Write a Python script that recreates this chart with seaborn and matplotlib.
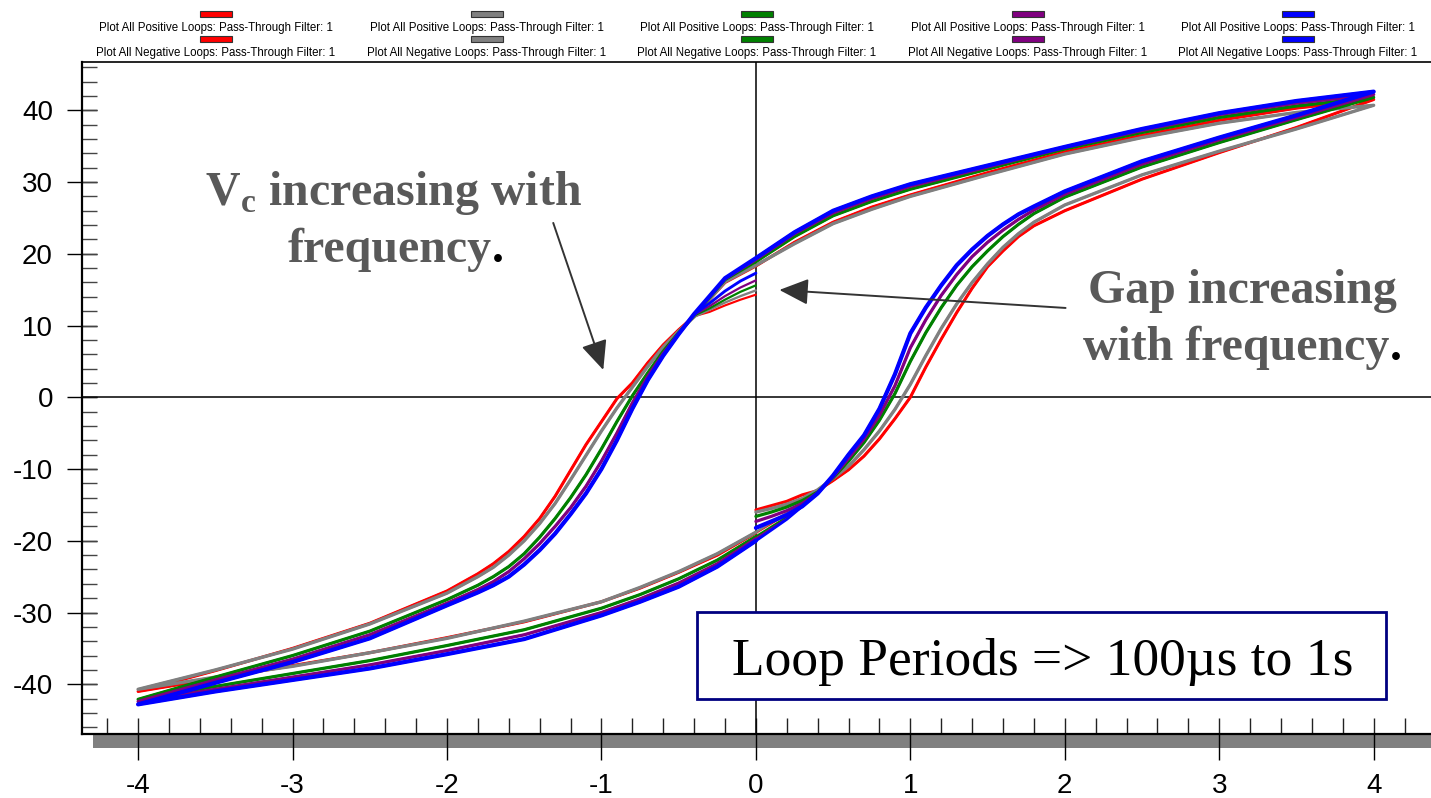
import matplotlib
matplotlib.use("Agg")
import numpy as np
import pandas as pd
import seaborn as sns
import matplotlib.pyplot as plt
from matplotlib.patches import Rectangle, FancyArrowPatch
from matplotlib.ticker import MultipleLocator

# ---------------------------------------------------------------------------
# Hysteresis loop data (voltage in V, polarization in uC/cm2)
# ---------------------------------------------------------------------------
# descending branch: +4 V -> -4 V
V_DOWN = [4.0, 3.5, 3.0, 2.5, 2.0, 1.5, 1.0, 0.75, 0.5, 0.25, 0.0, -0.2, -0.4,
          -0.5, -0.6, -0.7, -0.8, -0.9, -1.0, -1.1, -1.2, -1.3, -1.4, -1.5,
          -1.6, -1.7, -1.8, -2.0, -2.5, -3.0, -3.5, -4.0]
# ascending branch: -4 V -> +4 V
V_UP = [-4.0, -3.5, -3.0, -2.5, -2.0, -1.5, -1.0, -0.75, -0.5, -0.25, 0.0, 0.2,
        0.4, 0.5, 0.6, 0.7, 0.8, 0.9, 1.0, 1.1, 1.2, 1.3, 1.4, 1.5, 1.6, 1.7,
        1.8, 2.0, 2.5, 3.0, 3.5, 4.0]
# start segments of the positive / negative loops
STUB_POS_V = [0.0, 0.1, 0.2, 0.3]
STUB_NEG_V = [0.0, -0.1, -0.2, -0.3]

RED_DOWN = [41.5, 40.3, 38.6, 36.5, 34.2, 31.3, 28.2, 26.5, 24.4, 21.6, 18.3,
            16.0, 11.3, 9.4, 7.3, 4.8, 2.0, -0.2, -3.4, -6.6, -10.2, -13.8,
            -16.9, -19.4, -21.5, -23.2, -24.6, -27.0, -31.5, -35.0, -38.1,
            -41.0]
GRAY_DOWN = [40.7, 39.7, 38.2, 36.2, 33.9, 31.0, 28.0, 26.2, 24.2, 21.4, 18.4,
             16.1, 11.2, 9.2, 7.0, 4.3, 1.4, -1.5, -4.7, -8.1, -11.5, -14.8,
             -17.6, -20.0, -22.0, -23.7, -25.0, -27.3, -31.6, -35.1, -38.0,
             -40.7]
GREEN_DOWN = [41.8, 40.6, 39.0, 36.9, 34.6, 31.8, 29.0, 27.3, 25.3, 22.4, 18.9,
              16.4, 11.4, 9.0, 6.4, 3.4, 0.2, -3.4, -7.2, -10.8, -14.0, -16.9,
              -19.5, -21.8, -23.6, -25.0, -26.2, -28.2, -32.6, -36.0, -39.0,
              -42.1]
PURPLE_DOWN = [42.2, 41.0, 39.4, 37.2, 34.8, 32.1, 29.4, 27.7, 25.7, 22.8, 19.2,
               16.5, 11.5, 8.9, 6.1, 2.9, -0.8, -5.0, -8.9, -12.4, -15.4,
               -18.0, -20.4, -22.5, -24.3, -25.7, -26.8, -28.7, -33.1, -36.5,
               -39.4, -42.4]
BLUE_DOWN = [42.6, 41.3, 39.6, 37.4, 34.9, 32.3, 29.7, 28.0, 26.0, 23.0, 19.4,
             16.6, 11.6, 8.8, 5.8, 2.4, -1.6, -6.0, -10.0, -13.4, -16.3, -19.0,
             -21.3, -23.3, -25.0, -26.2, -27.2, -29.0, -33.6, -36.9, -39.8,
             -42.8]

RED_UP = [-41.0, -39.2, -37.4, -35.6, -33.5, -31.3, -28.5, -26.6, -24.4, -22.0,
          -18.9, -16.3, -13.0, -11.6, -10.1, -8.2, -5.8, -3.0, 0.0, 4.2, 8.1,
          11.8, 15.2, 18.2, 20.4, 22.4, 23.9, 26.0, 30.4, 34.1, 37.6, 41.5]
GRAY_UP = [-40.7, -39.0, -37.5, -35.6, -33.6, -31.2, -28.5, -26.5, -24.3,
           -21.8, -18.8, -16.1, -12.9, -11.3, -9.6, -7.3, -4.7, -1.7, 1.8, 5.8,
           9.6, 13.0, 16.0, 18.6, 20.9, 22.8, 24.4, 26.8, 31.0, 34.3, 37.4,
           40.7]
GREEN_UP = [-42.1, -40.3, -38.5, -36.7, -34.6, -32.4, -29.4, -27.5, -25.3,
            -22.7, -19.4, -16.7, -13.2, -11.2, -8.9, -6.3, -3.2, 0.5, 5.0, 9.0,
            12.5, 15.6, 18.2, 20.4, 22.4, 24.1, 25.6, 27.9, 32.1, 35.5, 38.7,
            41.8]
PURPLE_UP = [-42.4, -40.7, -39.0, -37.3, -35.3, -33.1, -30.0, -28.1, -25.9,
             -23.2, -19.7, -16.9, -13.3, -11.1, -8.5, -5.8, -2.5, 1.6, 6.9,
             10.8, 14.2, 17.1, 19.6, 21.6, 23.3, 24.8, 26.1, 28.3, 32.5, 35.9,
             39.0, 42.2]
BLUE_UP = [-42.8, -41.0, -39.4, -37.8, -35.8, -33.7, -30.4, -28.5, -26.4,
           -23.6, -20.0, -17.0, -13.4, -10.9, -8.0, -5.3, -1.6, 3.2, 8.9, 12.5,
           15.6, 18.4, 20.6, 22.5, 24.1, 25.5, 26.6, 28.7, 32.9, 36.2, 39.3,
           42.6]

RED_POS_START = [-15.7, -15.1, -14.5, -13.6]
GRAY_POS_START = [-16.0, -15.5, -14.9, -14.1]
GREEN_POS_START = [-16.6, -16.0, -15.3, -14.4]
PURPLE_POS_START = [-17.3, -16.6, -15.8, -14.8]
BLUE_POS_START = [-18.2, -17.3, -16.4, -15.2]

RED_NEG_START = [14.3, 13.6, 12.8, 11.9]
GRAY_NEG_START = [14.9, 14.1, 13.2, 12.2]
GREEN_NEG_START = [15.6, 14.7, 13.6, 12.4]
PURPLE_NEG_START = [16.3, 15.3, 14.1, 12.7]
BLUE_NEG_START = [17.3, 16.2, 14.8, 13.1]

SERIES = [
    ("#ff0000", RED_DOWN, RED_UP, RED_POS_START, RED_NEG_START, 2.2),
    ("#808080", GRAY_DOWN, GRAY_UP, GRAY_POS_START, GRAY_NEG_START, 2.4),
    ("#008000", GREEN_DOWN, GREEN_UP, GREEN_POS_START, GREEN_NEG_START, 2.3),
    ("#800080", PURPLE_DOWN, PURPLE_UP, PURPLE_POS_START, PURPLE_NEG_START, 2.3),
    ("#0000ff", BLUE_DOWN, BLUE_UP, BLUE_POS_START, BLUE_NEG_START, 3.0),
]

LEGEND_POS = "Plot All Positive Loops: Pass-Through Filter: 1"
LEGEND_NEG = "Plot All Negative Loops: Pass-Through Filter: 1"

# ---------------------------------------------------------------------------
sns.set_theme(style="ticks")
plt.rcParams["font.family"] = ["Liberation Sans", "DejaVu Sans"]
plt.rcParams["axes.unicode_minus"] = False
plt.rcParams["mathtext.fontset"] = "custom"
plt.rcParams["mathtext.bf"] = "Liberation Serif:bold"
plt.rcParams["mathtext.rm"] = "Liberation Serif:bold"

W, H = 1431, 798
fig = plt.figure(figsize=(W / 100, H / 100), dpi=100)
fig.patch.set_facecolor("white")
ax = fig.add_axes([81.7 / W, (H - 734) / H, (W - 81.7) / W, (734 - 62) / H])

i_up0 = V_UP.index(0.0)
i_up4 = V_UP.index(0.4)
i_dn0 = V_DOWN.index(0.0)
i_dn4 = V_DOWN.index(-0.4)

for color, down, up, pos_start, neg_start, lw in SERIES:
    # positive loop: 0 -> +4 -> -4 -> 0
    pos = pd.DataFrame({
        "V": STUB_POS_V + V_UP[i_up4:] + V_DOWN + V_UP[:i_up0 + 1],
        "P": pos_start + up[i_up4:] + down + up[:i_up0 + 1],
    })
    # negative loop: 0 -> -4 -> +4 -> 0
    neg = pd.DataFrame({
        "V": STUB_NEG_V + V_DOWN[i_dn4:] + V_UP + V_DOWN[:i_dn0 + 1],
        "P": neg_start + down[i_dn4:] + up + down[:i_dn0 + 1],
    })
    sns.lineplot(data=pos, x="V", y="P", sort=False, estimator=None,
                 color=color, lw=lw, ax=ax, legend=False, zorder=3)
    sns.lineplot(data=neg, x="V", y="P", sort=False, estimator=None,
                 color=color, lw=lw * 0.7, ax=ax, legend=False, zorder=3)

# crosshair through the origin
ax.axhline(0, color="black", lw=1.1, zorder=2)
ax.axvline(0, color="black", lw=1.1, zorder=2)

ax.set_xlim(-4.365, 4.371)
ax.set_ylim(-46.93, 46.73)
ax.set_xlabel("")
ax.set_ylabel("")

ax.xaxis.set_major_locator(MultipleLocator(1))
ax.xaxis.set_minor_locator(MultipleLocator(0.2))
ax.yaxis.set_major_locator(MultipleLocator(10))
ax.yaxis.set_minor_locator(MultipleLocator(2))
ax.xaxis.remove_overlapping_locs = False
ax.yaxis.remove_overlapping_locs = False

ax.tick_params(axis="x", which="major", direction="out", length=19, width=1.0,
               color="black", labelsize=20, pad=9, labelcolor="black",
               bottom=True, top=False)
ax.tick_params(axis="x", which="minor", direction="in", length=11.5, width=1.0,
               color="#222222", bottom=True, top=False)
ax.tick_params(axis="y", which="major", direction="inout", length=21.5,
               width=1.0, color="black", labelsize=20, pad=10,
               labelcolor="black", left=True, right=False)
ax.tick_params(axis="y", which="minor", direction="in", length=10.8, width=1.0,
               color="#444444", left=True, right=False)

for side in ("left", "bottom"):
    ax.spines[side].set_color("black")
    ax.spines[side].set_linewidth(1.6)
ax.spines["top"].set_color("black")
ax.spines["top"].set_linewidth(1.2)
ax.spines["right"].set_visible(False)

# grey base strip under the x axis
fig.add_artist(Rectangle((93 / W, (H - 748) / H), (W - 93) / W, 14 / H,
                         transform=fig.transFigure, facecolor="#808080",
                         edgecolor="none", zorder=-1))

# annotations
note_kw = dict(family=["Liberation Serif", "DejaVu Serif"], weight="bold",
               color="#595959", fontsize=34.5, zorder=6)
ax.text(-2.348, 26.8, r"V$_\mathbf{c}$ increasing with", ha="center",
        va="baseline", **note_kw)
t1 = ax.text(-3.034, 18.86, "frequency", ha="left", va="baseline", **note_kw)
ax.annotate(".", xy=(1, 0), xycoords=t1, ha="left", va="bottom",
            family=["Liberation Serif", "DejaVu Serif"], weight="bold",
            color="black", fontsize=34.5, zorder=6)

ax.text(3.151, 13.1, "Gap increasing", ha="center", va="baseline", **note_kw)
t2 = ax.text(2.121, 5.2, "with frequency", ha="left", va="baseline", **note_kw)
ax.annotate(".", xy=(1, 0), xycoords=t2, ha="left", va="bottom",
            family=["Liberation Serif", "DejaVu Serif"], weight="bold",
            color="black", fontsize=34.5, zorder=6)

arrow_kw = dict(arrowstyle="-|>,head_length=1.0,head_width=0.45",
                mutation_scale=18, color="#333333", lw=1.4, zorder=6,
                shrinkA=0, shrinkB=0)
ax.add_patch(FancyArrowPatch((-1.312, 24.3), (-0.988, 3.81), **arrow_kw))
ax.add_patch(FancyArrowPatch((2.005, 12.45), (0.152, 14.96), **arrow_kw))

ax.add_patch(Rectangle((-0.379, -42.05), 4.456, 12.13, facecolor="white",
                       edgecolor="#000080", lw=2.0, zorder=7))
ax.text(1.859, -38.7, "Loop Periods => 100\u00b5s to 1s", ha="center",
        va="baseline", family=["Liberation Serif", "DejaVu Serif"],
        fontsize=38.5, color="black", zorder=8)

# legend strip above the plot
col_centers = [216, 487, 757, 1028, 1298]
for cx, (color, *_rest) in zip(col_centers, SERIES):
    for sw_y, txt_y, label in ((11, 27.5, LEGEND_POS), (36, 53, LEGEND_NEG)):
        fig.add_artist(Rectangle(((cx - 16) / W, (H - sw_y - 6) / H), 32 / W,
                                 6 / H, transform=fig.transFigure,
                                 facecolor=color, edgecolor="#333333", lw=0.8))
        fig.text(cx / W, (H - txt_y) / H, label, ha="center", va="center",
                 fontsize=8.3, color="black")

fig.savefig("out.png", dpi=100, facecolor="white")
